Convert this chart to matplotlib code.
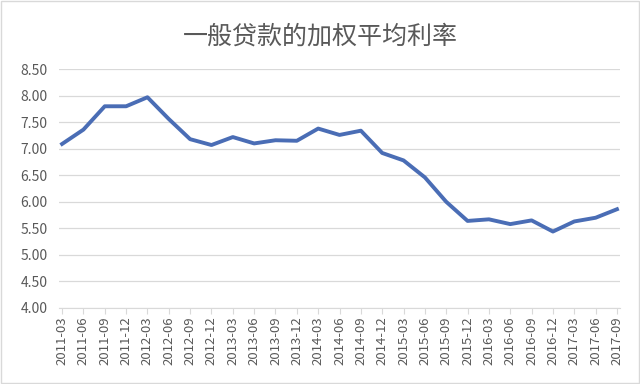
import matplotlib.pyplot as plt

plt.rcParams['font.family'] = ['Noto Sans CJK SC', 'DejaVu Sans']

# quarterly dates and weighted average lending rate (%)
quarters = ['2011-03', '2011-06', '2011-09', '2011-12', '2012-03', '2012-06', '2012-09',
            '2012-12', '2013-03', '2013-06', '2013-09', '2013-12', '2014-03', '2014-06',
            '2014-09', '2014-12', '2015-03', '2015-06', '2015-09', '2015-12', '2016-03',
            '2016-06', '2016-09', '2016-12', '2017-03', '2017-06', '2017-09']
rates = [7.09, 7.36, 7.80, 7.80, 7.97, 7.56, 7.18, 7.07, 7.22, 7.10, 7.16, 7.15, 7.38, 7.26,
         7.34, 6.92, 6.78, 6.46, 6.00, 5.64, 5.67, 5.58, 5.65, 5.44, 5.63, 5.70, 5.86]
yticks = [4.0, 4.5, 5.0, 5.5, 6.0, 6.5, 7.0, 7.5, 8.0, 8.5]

fig = plt.figure(figsize=(6.4, 3.84), dpi=100)
ax = fig.add_axes([0.092, 0.198, 0.877, 0.622])

x = range(len(quarters))
ax.plot(x, rates, color='#4A6DB5', linewidth=2.8, solid_joinstyle='round')

ax.set_xlim(-0.15, len(quarters) - 0.85)
ax.set_ylim(4.0, 8.5)
ax.set_yticks(yticks)
ax.set_yticklabels([f'{v:.2f}' for v in yticks])
ax.set_xticks(list(x))
ax.set_xticklabels(quarters, rotation=90)

ax.grid(axis='y', color='#d9d9d9', linewidth=0.9)
ax.set_axisbelow(True)
for side in ['top', 'right', 'left']:
    ax.spines[side].set_visible(False)
ax.spines['bottom'].set_color('#d9d9d9')
ax.tick_params(axis='y', length=0, colors='#595959', labelsize=10, pad=8)
ax.tick_params(axis='x', length=4, color='#d9d9d9', labelcolor='#595959', labelsize=9.5, pad=2)

fig.text(0.5, 0.905, '一般贷款的加权平均利率', ha='center', va='center', fontsize=18, color='#595959')

# light border round the whole picture
fig.patches.append(plt.Rectangle((0.002, 0.003), 0.996, 0.994, transform=fig.transFigure,
                                 fill=False, edgecolor='#d9d9d9', linewidth=1))

fig.savefig('out.png', dpi=100, facecolor='white')
